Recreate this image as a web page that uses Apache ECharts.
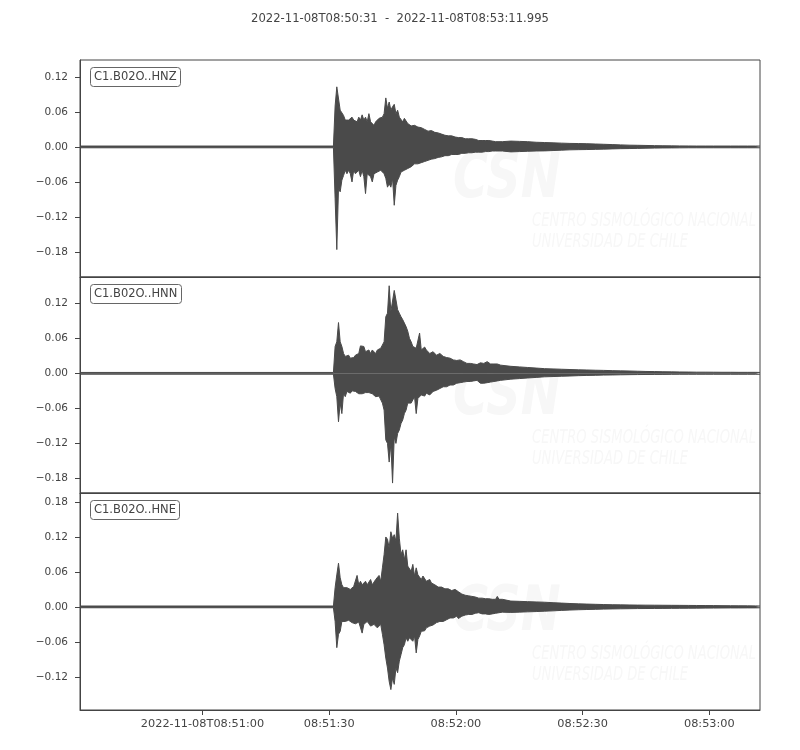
<!DOCTYPE html>
<html>
<head>
<meta charset="utf-8">
<script src="https://cdn.jsdelivr.net/npm/echarts@6/dist/echarts.min.js"></script>
<style>html,body{margin:0;padding:0;background:#fff}#c{width:800px;height:750px}</style>
</head>
<body>
<div id="c"></div>
<script>
// ---- data (seconds after 2022-11-08T08:50:31, amplitudes) ----
const titleText = '2022-11-08T08:50:31  -  2022-11-08T08:53:11.995';
const traceNames = ['C1.B02O..HNZ', 'C1.B02O..HNN', 'C1.B02O..HNE'];
const xTickSeconds = [29, 59, 89, 119, 149];
const xTickLabels = ['2022-11-08T08:51:00', '08:51:30', '08:52:00', '08:52:30', '08:53:00'];
const xMax = 160.995;
const yRanges = [[-0.223, 0.149], [-0.205, 0.165], [-0.177, 0.1955]];
const yTicksHNZ = [-0.18, -0.12, -0.06, 0, 0.06, 0.12];
const yTicksHNN = [-0.18, -0.12, -0.06, 0, 0.06, 0.12];
const yTicksHNE = [-0.12, -0.06, 0, 0.06, 0.12, 0.18];
const baseline = 0.0015;            // pre-event noise level
const activeStart = 60.0;           // first sample of the active window
const activeStep = 0.4;             // spacing of envelope samples in the active window
const tailTimes = [102,104,106,108,110,112,114,116,118,120,122,124,126,128,130,132,134,136,138,140,142,144,146,148,150,152,154,156,158,160];

const hnzUpper = [0.0015,0.070,0.103,0.100,0.063,0.066,0.054,0.046,0.049,0.046,
0.049,0.051,0.046,0.049,0.043,0.051,0.046,0.055,0.046,0.051,
0.043,0.057,0.043,0.046,0.037,0.043,0.040,0.049,0.046,0.051,
0.057,0.084,0.066,0.077,0.063,0.069,0.073,0.057,0.063,0.051,
0.049,0.043,0.049,0.051,0.040,0.037,0.036,0.034,0.037,0.040,
0.034,0.036,0.033,0.031,0.030,0.029,0.027,0.026,0.028,0.026,
0.025,0.023,0.024,0.021,0.022,0.023,0.020,0.021,0.019,0.017,
0.019,0.018,0.017,0.017,0.016,0.015,0.016,0.015,0.014,0.015,
0.014,0.013,0.014,0.013,0.013,0.012,0.011,0.012,0.011,0.011,
0.011,0.010,0.011,0.010,0.010,0.010,0.009,0.010,0.009,0.010,0.009];
const hnzLower = [-0.0015,-0.089,-0.176,-0.071,-0.077,-0.057,-0.049,-0.040,-0.046,-0.040,
-0.046,-0.060,-0.040,-0.046,-0.043,-0.040,-0.051,-0.040,-0.051,-0.080,
-0.046,-0.043,-0.051,-0.060,-0.046,-0.043,-0.043,-0.040,-0.040,-0.043,
-0.046,-0.054,-0.069,-0.063,-0.069,-0.054,-0.100,-0.066,-0.057,-0.051,
-0.043,-0.040,-0.040,-0.037,-0.037,-0.034,-0.034,-0.031,-0.029,-0.031,
-0.029,-0.026,-0.027,-0.025,-0.025,-0.023,-0.023,-0.022,-0.021,-0.020,
-0.020,-0.019,-0.018,-0.018,-0.017,-0.017,-0.015,-0.014,-0.015,-0.014,
-0.013,-0.013,-0.013,-0.012,-0.013,-0.012,-0.011,-0.011,-0.011,-0.010,
-0.010,-0.010,-0.010,-0.010,-0.009,-0.009,-0.009,-0.009,-0.009,-0.008,
-0.008,-0.007,-0.008,-0.007,-0.007,-0.007,-0.007,-0.007,-0.007,-0.007,-0.007];
const hnzTailUpper = [0.0100,0.0095,0.0090,0.0080,0.0075,0.0070,0.0065,0.0060,0.0058,0.0055,
0.0050,0.0045,0.0040,0.0035,0.0030,0.0028,0.0025,0.0022,0.0020,0.0018,
0.0017,0.0016,0.0015,0.0015,0.0015,0.0015,0.0015,0.0015,0.0015,0.0015];
const hnzTailLower = [-0.0085,-0.0080,-0.0075,-0.0070,-0.0068,-0.0062,-0.0056,-0.0050,-0.0047,-0.0045,
-0.0042,-0.0038,-0.0034,-0.0030,-0.0028,-0.0025,-0.0022,-0.0020,-0.0018,-0.0017,
-0.0016,-0.0015,-0.0015,-0.0015,-0.0015,-0.0015,-0.0015,-0.0015,-0.0015,-0.0015];

const hnnUpper = [0.0015,0.046,0.054,0.087,0.054,0.046,0.034,0.029,0.026,0.031,
0.026,0.029,0.027,0.031,0.030,0.034,0.047,0.049,0.046,0.037,
0.037,0.040,0.034,0.040,0.037,0.034,0.040,0.037,0.043,0.046,
0.054,0.097,0.103,0.150,0.106,0.103,0.142,0.126,0.109,0.103,
0.097,0.092,0.094,0.080,0.072,0.060,0.054,0.046,0.049,0.043,
0.040,0.069,0.040,0.037,0.045,0.040,0.037,0.034,0.035,0.037,
0.034,0.031,0.033,0.034,0.031,0.029,0.030,0.027,0.027,0.026,
0.024,0.023,0.024,0.022,0.023,0.023,0.021,0.020,0.019,0.017,
0.018,0.017,0.016,0.016,0.015,0.015,0.016,0.018,0.019,0.017,
0.018,0.020,0.017,0.016,0.017,0.016,0.015,0.016,0.015,0.014,0.013];
const hnnLower = [-0.0015,-0.026,-0.040,-0.083,-0.051,-0.069,-0.034,-0.040,-0.031,-0.034,
-0.034,-0.030,-0.029,-0.031,-0.031,-0.035,-0.037,-0.035,-0.034,-0.033,
-0.031,-0.033,-0.034,-0.035,-0.037,-0.040,-0.043,-0.039,-0.037,-0.051,
-0.063,-0.114,-0.120,-0.152,-0.120,-0.188,-0.109,-0.120,-0.103,-0.097,
-0.086,-0.080,-0.069,-0.063,-0.051,-0.049,-0.051,-0.049,-0.040,-0.069,
-0.043,-0.040,-0.037,-0.040,-0.039,-0.034,-0.035,-0.037,-0.034,-0.031,
-0.031,-0.029,-0.030,-0.026,-0.026,-0.023,-0.024,-0.023,-0.022,-0.020,
-0.021,-0.020,-0.018,-0.017,-0.018,-0.016,-0.017,-0.015,-0.015,-0.014,
-0.015,-0.014,-0.013,-0.013,-0.013,-0.012,-0.011,-0.017,-0.016,-0.017,
-0.015,-0.016,-0.014,-0.015,-0.013,-0.014,-0.012,-0.013,-0.012,-0.012,-0.011];
const hnnTailUpper = [0.0120,0.0110,0.0100,0.0090,0.0080,0.0075,0.0070,0.0065,0.0060,0.0057,
0.0053,0.0050,0.0046,0.0042,0.0040,0.0036,0.0032,0.0030,0.0027,0.0025,
0.0023,0.0022,0.0020,0.0020,0.0019,0.0018,0.0018,0.0017,0.0017,0.0017];
const hnnTailLower = [-0.0100,-0.0090,-0.0080,-0.0070,-0.0060,-0.0055,-0.0050,-0.0046,-0.0040,-0.0036,
-0.0034,-0.0030,-0.0028,-0.0025,-0.0023,-0.0021,-0.0020,-0.0019,-0.0018,-0.0017,
-0.0016,-0.0016,-0.0016,-0.0016,-0.0016,-0.0016,-0.0016,-0.0016,-0.0016,-0.0016];

const hneUpper = [0.0015,0.033,0.055,0.075,0.050,0.038,0.033,0.030,0.033,0.034,
0.030,0.033,0.035,0.033,0.054,0.038,0.044,0.038,0.041,0.044,
0.038,0.035,0.047,0.038,0.041,0.047,0.050,0.054,0.044,0.067,
0.090,0.120,0.116,0.101,0.129,0.118,0.124,0.113,0.161,0.118,
0.090,0.098,0.081,0.098,0.070,0.067,0.061,0.073,0.053,0.067,
0.055,0.053,0.047,0.053,0.050,0.044,0.041,0.047,0.041,0.038,
0.038,0.035,0.034,0.033,0.034,0.035,0.031,0.030,0.031,0.033,
0.028,0.027,0.030,0.030,0.026,0.024,0.022,0.021,0.020,0.018,
0.019,0.018,0.018,0.018,0.017,0.017,0.015,0.016,0.015,0.015,
0.014,0.015,0.014,0.014,0.013,0.014,0.013,0.018,0.013,0.012,0.013];
const hneLower = [-0.0015,-0.025,-0.070,-0.047,-0.042,-0.025,-0.027,-0.025,-0.022,-0.023,
-0.025,-0.027,-0.030,-0.029,-0.027,-0.026,-0.025,-0.045,-0.030,-0.027,
-0.025,-0.029,-0.033,-0.031,-0.030,-0.033,-0.036,-0.033,-0.030,-0.047,
-0.065,-0.088,-0.105,-0.128,-0.142,-0.122,-0.133,-0.105,-0.113,-0.093,
-0.082,-0.070,-0.065,-0.053,-0.059,-0.053,-0.050,-0.059,-0.050,-0.079,
-0.056,-0.050,-0.042,-0.039,-0.041,-0.036,-0.037,-0.033,-0.030,-0.031,
-0.030,-0.027,-0.029,-0.025,-0.026,-0.025,-0.023,-0.022,-0.022,-0.019,
-0.020,-0.019,-0.018,-0.016,-0.020,-0.022,-0.016,-0.013,-0.014,-0.012,
-0.013,-0.012,-0.013,-0.012,-0.011,-0.011,-0.010,-0.013,-0.012,-0.014,
-0.012,-0.011,-0.013,-0.010,-0.012,-0.010,-0.011,-0.009,-0.010,-0.009,-0.009];
const hneTailUpper = [0.0100,0.0095,0.0090,0.0085,0.0080,0.0072,0.0065,0.0058,0.0052,0.0048,
0.0044,0.0040,0.0037,0.0035,0.0033,0.0031,0.0030,0.0029,0.0028,0.0027,
0.0026,0.0025,0.0024,0.0023,0.0022,0.0021,0.0020,0.0019,0.0018,0.0017];
const hneTailLower = [-0.0095,-0.0090,-0.0085,-0.0080,-0.0074,-0.0068,-0.0060,-0.0054,-0.0049,-0.0045,
-0.0042,-0.0038,-0.0035,-0.0033,-0.0031,-0.0029,-0.0028,-0.0027,-0.0026,-0.0025,
-0.0024,-0.0023,-0.0022,-0.0021,-0.0020,-0.0019,-0.0018,-0.0018,-0.0017,-0.0017];

// ---- build ----
const traces = [
  {up: hnzUpper, lo: hnzLower, tu: hnzTailUpper, tl: hnzTailLower, ticks: yTicksHNZ},
  {up: hnnUpper, lo: hnnLower, tu: hnnTailUpper, tl: hnnTailLower, ticks: yTicksHNN},
  {up: hneUpper, lo: hneLower, tu: hneTailUpper, tl: hneTailLower, ticks: yTicksHNE}
];
function buildSeries(active, tail, base) {
  const pts = [[0, base]];
  active.forEach((v, i) => pts.push([+(activeStart + i * activeStep).toFixed(3), v]));
  tail.forEach((v, i) => pts.push([tailTimes[i], v]));
  pts.push([xMax, base]);
  return pts;
}
const INK = '#4a4a4a';
const TXT = '#444';
const gridTops = [60, 277, 493];
const gridHeights = [217, 216, 217];
const grids = [], xAxes = [], yAxes = [], series = [], titles = [], graphics = [];
titles.push({text: titleText, left: 'center', top: 13, padding: 0,
  textStyle: {fontFamily: 'DejaVu Sans', fontSize: 11.6, fontWeight: 'normal', color: TXT}});
const fmtY = v => (v < 0 ? '\u2212' : '') + Math.abs(v).toFixed(2);
traces.forEach((tr, k) => {
  grids.push({left: 80, width: 680, top: gridTops[k], height: gridHeights[k],
    show: true, borderColor: TXT, borderWidth: 1, backgroundColor: 'transparent'});
  const last = k === traces.length - 1;
  xAxes.push({type: 'value', gridIndex: k, min: 0, max: xMax,
    axisLine: {show: true, onZero: false, lineStyle: {color: TXT}},
    splitLine: {show: false},
    axisTick: {show: last, length: 5, lineStyle: {color: TXT}, customValues: xTickSeconds},
    axisLabel: {show: last, margin: 9, color: TXT, fontFamily: 'DejaVu Sans', fontSize: 11.3,
      customValues: xTickSeconds,
      formatter: v => xTickLabels[xTickSeconds.indexOf(Math.round(v))] || ''}});
  yAxes.push({type: 'value', gridIndex: k, min: yRanges[k][0], max: yRanges[k][1],
    axisLine: {show: true, lineStyle: {color: TXT}},
    splitLine: {show: false},
    axisTick: {show: true, length: 5, lineStyle: {color: TXT}, customValues: tr.ticks},
    axisLabel: {show: true, margin: 12, color: TXT, fontFamily: 'DejaVu Sans', fontSize: 10.5,
      customValues: tr.ticks, formatter: fmtY}});
  const common = {type: 'line', xAxisIndex: k, yAxisIndex: k, symbol: 'none', sampling: null,
    lineStyle: {color: INK, width: 1}, areaStyle: {color: INK, opacity: 1, origin: 0},
    itemStyle: {color: INK}, z: 3, silent: true};
  series.push(Object.assign({}, common, {data: buildSeries(tr.up, tr.tu, baseline)}));
  series.push(Object.assign({}, common, {data: buildSeries(tr.lo, tr.tl, -baseline)}));
  titles.push({text: traceNames[k], left: 90, top: gridTops[k] + 7, padding: [3, 4, 3, 4],
    borderColor: '#666', borderWidth: 1, borderRadius: 3, backgroundColor: '#fff',
    textStyle: {fontFamily: 'DejaVu Sans', fontSize: 11.5, fontWeight: 'normal', color: TXT, lineHeight: 14}});
  const oy = gridTops[k] - 60;
  const wm = '#f7f7f7';
  graphics.push({type: 'text', z: 0, x: 453, y: 150 + oy, scaleX: 0.77,
    style: {text: 'CSN', fill: wm, font: 'italic bold 62px "DejaVu Sans"'}});
  graphics.push({type: 'text', z: 0, x: 532, y: 212 + oy, scaleX: 0.69,
    style: {text: 'CENTRO SISMOLÓGICO NACIONAL', fill: wm, font: 'italic 19px "DejaVu Sans"'}});
  graphics.push({type: 'text', z: 0, x: 532, y: 233 + oy, scaleX: 0.69,
    style: {text: 'UNIVERSIDAD DE CHILE', fill: wm, font: 'italic 19px "DejaVu Sans"'}});
});
const chart = echarts.init(document.getElementById('c'), null, {renderer: 'canvas'});
chart.setOption({animation: false, backgroundColor: '#fff', title: titles, grid: grids,
  xAxis: xAxes, yAxis: yAxes, series: series, graphic: graphics});
</script>
</body>
</html>
